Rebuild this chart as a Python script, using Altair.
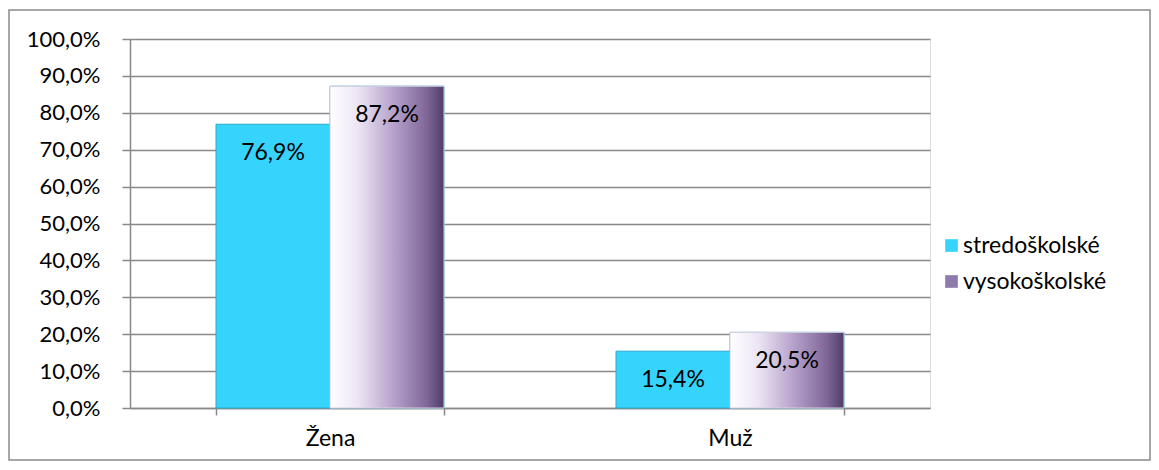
import altair as alt
import pandas as pd

categories = ["Žena", "Muž"]
series = ["stredoškolské", "vysokoškolské"]
stredo = [76.9, 15.4]
vyso = [87.2, 20.5]

rows = []
for i, c in enumerate(categories):
    rows.append({"cat": c, "ser": series[0], "val": stredo[i]})
    rows.append({"cat": c, "ser": series[1], "val": vyso[i]})
df = pd.DataFrame(rows)

FONT = "Lato"
W, H = 800, 369

x_enc = alt.X("cat:N", sort=categories, title=None,
              scale=alt.Scale(paddingInner=0.43, paddingOuter=0.215),
              axis=alt.Axis(labelFontSize=23, labelFont=FONT, labelColor="#000",
                            labelPadding=12, labelAngle=0, tickBand="extent",
                            tickSize=7, tickColor="#888", domainColor="#888",
                            domainWidth=1.5, tickWidth=1.5, grid=False))
xo_enc = alt.XOffset("ser:N", sort=series, scale=alt.Scale(domain=series, paddingInner=0, paddingOuter=0))
y_enc = alt.Y("val:Q", title=None,
              scale=alt.Scale(domain=[0, 100]),
              axis=alt.Axis(values=list(range(0, 101, 10)), labelFontSize=22, labelFont=FONT,
                            labelColor="#000", labelPadding=22,
                            labelExpr="replace(format(datum.value, '.1f'), '.', ',') + '%'",
                            tickSize=8, tickColor="#888", tickWidth=1.5,
                            domainColor="#888", domainWidth=1.5,
                            gridColor="#888", gridWidth=1.5))

base = alt.Chart(df)

bars = base.mark_bar(stroke="#29a9cc", strokeWidth=1).encode(
    x=x_enc, xOffset=xo_enc, y=y_enc,
    color=alt.Color("ser:N", sort=series, title=None,
                    scale=alt.Scale(domain=series, range=["#36d4fc", "#8f7aac"]),
                    legend=alt.Legend(orient="none", legendX=810, legendY=195,
                                      symbolType="square", symbolSize=160,
                                      labelFontSize=23, labelFont=FONT, labelColor="#000",
                                      rowPadding=12, symbolStrokeWidth=0,
                                      labelOffset=0))
)

grad = alt.Gradient(gradient="linear", x1=0, x2=1, y1=0, y2=0, stops=[
    alt.GradientStop(offset=0, color="#ffffff"),
    alt.GradientStop(offset=0.25, color="#ece4f3"),
    alt.GradientStop(offset=0.55, color="#b7a3cc"),
    alt.GradientStop(offset=0.85, color="#7f6798"),
    alt.GradientStop(offset=1, color="#4e3c66"),
])

purple = base.transform_filter(alt.datum.ser == series[1]).mark_bar(
    fill=grad, stroke="#d8d0e0", strokeWidth=1
).encode(x=x_enc, xOffset=xo_enc, y=y_enc)

labels = base.mark_text(fontSize=23, font=FONT, color="#000", baseline="middle", dy=29).encode(
    x=x_enc, xOffset=xo_enc, y=y_enc,
    text=alt.Text("label:N")
).transform_calculate(label="replace(format(datum.val, '.1f'), '.', ',') + '%'")

frame = alt.Chart(pd.DataFrame({"a": [0]})).mark_rect(
    fill=None, stroke="#8a8a8a", strokeWidth=1.5
).encode(x=alt.value(-121), x2=alt.value(1020), y=alt.value(-29), y2=alt.value(421))

chart = alt.layer(frame, bars, purple, labels).properties(
    width=W, height=H,
    autosize=alt.AutoSizeParams(type="none"),
    padding={"left": 122, "top": 31, "right": 221, "bottom": 54},
).configure_view(stroke=None).configure(background="white")

chart.save("out.html", embed_options={"renderer": "svg", "actions": False})
